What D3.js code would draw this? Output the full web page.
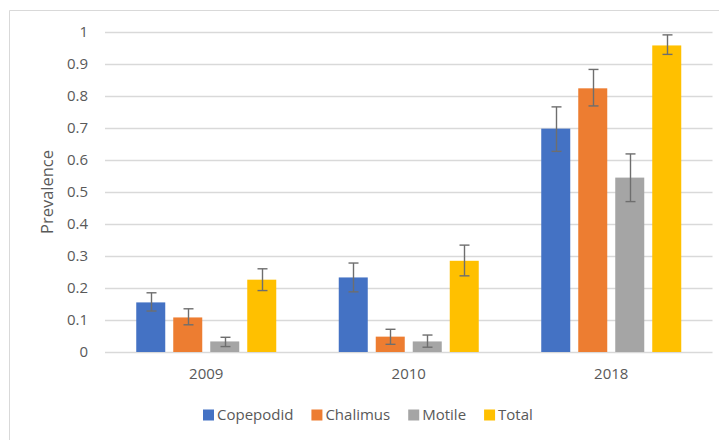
<!DOCTYPE html>
<html>
<head>
<meta charset="utf-8">
<script src="https://cdn.jsdelivr.net/npm/d3@7"></script>
<style>
  html, body { margin: 0; padding: 0; background: #fff; }
  svg { display: block; font-family: "Open Sans", "Liberation Sans", sans-serif; }
</style>
</head>
<body>
<svg id="chart" width="719" height="440"></svg>
<script>
const years = ["2009", "2010", "2018"];
const seriesNames = ["Copepodid", "Chalimus", "Motile", "Total"];
const seriesColors = ["#4472C4", "#ED7D31", "#A5A5A5", "#FFC000"];
const copepodid = [0.155, 0.233, 0.698];
const chalimus = [0.108, 0.048, 0.824];
const motile = [0.033, 0.033, 0.545];
const total = [0.226, 0.285, 0.958];
const copepodidLow = [0.128, 0.188, 0.627];
const copepodidHigh = [0.185, 0.278, 0.766];
const chalimusLow = [0.085, 0.024, 0.769];
const chalimusHigh = [0.135, 0.071, 0.883];
const motileLow = [0.017, 0.015, 0.470];
const motileHigh = [0.046, 0.053, 0.619];
const totalLow = [0.192, 0.238, 0.930];
const totalHigh = [0.260, 0.334, 0.991];
const yTicks = [0, 0.1, 0.2, 0.3, 0.4, 0.5, 0.6, 0.7, 0.8, 0.9, 1];
const yTitle = "Prevalence";

const values = [copepodid, chalimus, motile, total];
const lows = [copepodidLow, chalimusLow, motileLow, totalLow];
const highs = [copepodidHigh, chalimusHigh, motileHigh, totalHigh];

const data = [];
years.forEach((yr, i) => {
  seriesNames.forEach((s, j) => {
    data.push({ year: yr, series: s, color: seriesColors[j], value: values[j][i], low: lows[j][i], high: highs[j][i] });
  });
});

const svg = d3.select("#chart");
const plot = { left: 105, right: 712.5, top: 32, bottom: 352 };

// outer frame
svg.append("path")
  .attr("d", `M9.5,440 L9.5,10.5 L719,10.5`)
  .attr("fill", "none").attr("stroke", "#d9d9d9").attr("stroke-width", 1);

const y = d3.scaleLinear().domain([0, 1]).range([plot.bottom, plot.top]);
const x0 = d3.scaleBand().domain(years).range([plot.left, plot.right]).padding(0);
const groupW = 140;
const x1 = d3.scaleBand().domain(seriesNames).range([0, groupW]).paddingInner(8 / 37).paddingOuter(0);
const groupOff = (x0.bandwidth() - groupW) / 2;

// gridlines
svg.append("g").selectAll("line").data(yTicks).join("line")
  .attr("x1", plot.left).attr("x2", plot.right)
  .attr("y1", d => Math.round(y(d)) + 0.5).attr("y2", d => Math.round(y(d)) + 0.5)
  .attr("stroke", "#d9d9d9").attr("stroke-width", 1.3);

// y axis labels
const yAxis = d3.axisLeft(y).tickValues(yTicks).tickFormat(d => d3.format("")(+d.toFixed(1))).tickSize(0).tickPadding(0);
const gy = svg.append("g").attr("transform", `translate(88,0)`).call(yAxis);
gy.select(".domain").remove();
gy.selectAll("text").attr("fill", "#595959").attr("font-size", "15px")
  .attr("font-family", "'Open Sans', sans-serif");

// x axis labels
const xAxis = d3.axisBottom(x0).tickSize(0).tickPadding(0);
const gx = svg.append("g").attr("transform", `translate(0,${plot.bottom + 16})`).call(xAxis);
gx.select(".domain").remove();
gx.selectAll("text").attr("fill", "#595959").attr("font-size", "15px")
  .attr("font-family", "'Open Sans', sans-serif");

// bars
const bx = d => x0(d.year) + groupOff + x1(d.series);
svg.append("g").selectAll("rect").data(data).join("rect")
  .attr("x", bx)
  .attr("y", d => y(d.value))
  .attr("width", x1.bandwidth())
  .attr("height", d => y(0) - y(d.value))
  .attr("fill", d => d.color);

// error bars
const eb = svg.append("g").attr("stroke", "#6e6e6e").attr("stroke-width", 1.4).attr("fill", "none");
data.forEach(d => {
  const cx = Math.round(bx(d) + x1.bandwidth() / 2) + 0.5;
  eb.append("line").attr("x1", cx).attr("x2", cx).attr("y1", y(d.high)).attr("y2", y(d.low));
  eb.append("line").attr("x1", cx - 5).attr("x2", cx + 5).attr("y1", y(d.high)).attr("y2", y(d.high));
  eb.append("line").attr("x1", cx - 5).attr("x2", cx + 5).attr("y1", y(d.low)).attr("y2", y(d.low));
});

// y title
svg.append("text")
  .attr("transform", `translate(53,${(plot.top + plot.bottom) / 2}) rotate(-90)`)
  .attr("text-anchor", "middle")
  .attr("fill", "#595959").attr("font-size", "16.5px")
  .attr("font-family", "'Open Sans', sans-serif")
  .text(yTitle);

// legend
const legend = svg.append("g");
let lx = 203;
const ly = 415;
seriesNames.forEach((s, j) => {
  legend.append("rect").attr("x", lx).attr("y", ly - 5.5).attr("width", 11).attr("height", 11).attr("fill", seriesColors[j]);
  const t = legend.append("text").attr("x", lx + 14).attr("y", ly).attr("dy", "0.35em")
    .attr("fill", "#595959").attr("font-size", "15px")
    .attr("font-family", "'Open Sans', sans-serif").text(s);
  const w = t.node().getComputedTextLength();
  lx = lx + 14 + w + 18;
});
</script>
</body>
</html>
